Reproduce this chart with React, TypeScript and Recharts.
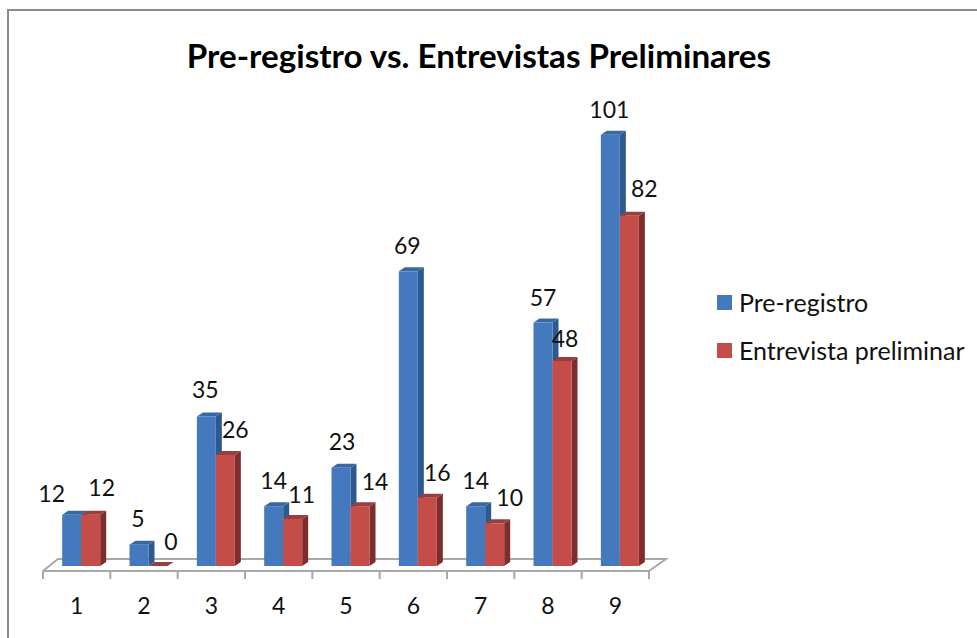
import React from "react";
import { BarChart, Bar, XAxis, YAxis, Legend, LabelList, Customized } from "recharts";

const categories = ["1", "2", "3", "4", "5", "6", "7", "8", "9"];
const preRegistro = [12, 5, 35, 14, 23, 69, 14, 57, 101];
const entrevista = [12, 0, 26, 11, 14, 16, 10, 48, 82];
const chartTitle = "Pre-registro vs. Entrevistas Preliminares";
const seriesNames = ["Pre-registro", "Entrevista preliminar"];

const rows = categories.map((c, i) => ({ c, a: preRegistro[i], b: entrevista[i] }));

const FONT = "Lato, 'Open Sans', sans-serif";
const W = 977, H = 638;
const DEPTH_X = 6, DEPTH_Y = 4, SHIFT = 4.5;
const BAND = 606 / categories.length;
const GRID = "#a8a8a8";

const blueStyle = { front: "#4579bd", side: "#2c5a8f", top: "#39689f" };
const redStyle = { front: "#c44d49", side: "#7d2e2c", top: "#96403d" };

// Hand placement of the data labels relative to their bar (dx, dy).
const nudgeA: [number, number][] = [[-20, 3], [-1, -2], [-1, -3], [0, -1], [1, -2], [-1, -1], [0, -1], [0, -1], [-1, -1]];
const nudgeB: [number, number][] = [[11, -3], [13, 0], [10, -1], [9, 0], [15, 0], [10, -1], [15, -1], [3, 2], [15, -3]];

function Bar3D(props: any) {
  const { x, y, width, height, colors } = props;
  const x0 = x + SHIFT, x1 = x0 + width, y1 = y + height;
  return (
    <g>
      <polygon points={`${x1},${y} ${x1 + DEPTH_X},${y - DEPTH_Y} ${x1 + DEPTH_X},${y1 - DEPTH_Y} ${x1},${y1}`} fill={colors.side} />
      <polygon points={`${x0},${y} ${x0 + DEPTH_X},${y - DEPTH_Y} ${x1 + DEPTH_X},${y - DEPTH_Y} ${x1},${y}`} fill={colors.top} />
      <rect x={x0} y={y} width={width} height={Math.max(height, 0)} fill={colors.front} />
    </g>
  );
}

function makeLabel(nudge: [number, number][], raise: number) {
  return function DataLabel(props: any) {
    const { x, y, width, value, index } = props;
    const [dx, dy] = nudge[index];
    return (
      <text x={x + width / 2 + SHIFT + dx} y={y - raise + dy} textAnchor="middle" fontFamily={FONT} fontSize={23} fill="#111">
        {value}
      </text>
    );
  };
}

function Floor() {
  return (
    <g stroke={GRID} strokeWidth={2} fill="none">
      <path d="M43 571 L58 559 L666 559 L649 571" />
    </g>
  );
}

function BoundaryTick(props: any) {
  const { x, y, payload, index } = props;
  const axisY = 571;
  const left = x - BAND / 2;
  return (
    <g>
      <line x1={left} x2={left} y1={axisY} y2={axisY + 8} stroke={GRID} strokeWidth={2} />
      {index === categories.length - 1 && (
        <line x1={x + BAND / 2} x2={x + BAND / 2} y1={axisY} y2={axisY + 8} stroke={GRID} strokeWidth={2} />
      )}
      <text x={x} y={axisY + 43} textAnchor="middle" fontFamily={FONT} fontSize={23} fill="#111">
        {payload.value}
      </text>
    </g>
  );
}

function LegendBox() {
  const colors = [blueStyle.front, redStyle.front];
  return (
    <div style={{ fontFamily: FONT, fontSize: 25, color: "#111" }}>
      {seriesNames.map((n, i) => (
        <div key={n} style={{ display: "flex", alignItems: "center", height: 48 }}>
          <span style={{ width: 15, height: 15, background: colors[i], marginRight: 7, display: "inline-block" }} />
          {n}
        </div>
      ))}
    </div>
  );
}

export default function App() {
  return (
    <div style={{ position: "absolute", left: 0, top: 0, width: W, height: H, background: "#fff", overflow: "hidden" }}>
      <div style={{ position: "absolute", left: 7, top: 9, width: 990, height: 660, borderTop: "2px solid #8c8c8c", borderLeft: "2px solid #8c8c8c", boxSizing: "border-box" }} />
      <BarChart
        width={W}
        height={H}
        data={rows}
        barGap={0}
        barCategoryGap="21.8%"
        margin={{ top: 100, left: 43, right: 78, bottom: 0 }}
      >
        <text x={479} y={68} textAnchor="middle" fontFamily={FONT} fontWeight={700} fontSize={33.2} fill="#000">
          {chartTitle}
        </text>
        <Customized component={Floor} />
        <XAxis
          dataKey="c"
          height={67}
          interval={0}
          tick={<BoundaryTick />}
          tickLine={false}
          axisLine={{ stroke: GRID, strokeWidth: 2 }}
          scale="band"
        />
        <YAxis hide domain={[-1.17, 109.11]} />
        <Legend
          layout="vertical"
          align="right"
          verticalAlign="top"
          width={250}
          content={<LegendBox />}
          wrapperStyle={{ left: 717, top: 278, right: "auto" }}
        />
        <Bar dataKey="a" name={seriesNames[0]} isAnimationActive={false} shape={(p: any) => <Bar3D {...p} colors={blueStyle} />}>
          <LabelList dataKey="a" content={makeLabel(nudgeA, 16)} />
        </Bar>
        <Bar dataKey="b" name={seriesNames[1]} isAnimationActive={false} shape={(p: any) => <Bar3D {...p} colors={redStyle} />}>
          <LabelList dataKey="b" content={makeLabel(nudgeB, 16)} />
        </Bar>
      </BarChart>
    </div>
  );
}
